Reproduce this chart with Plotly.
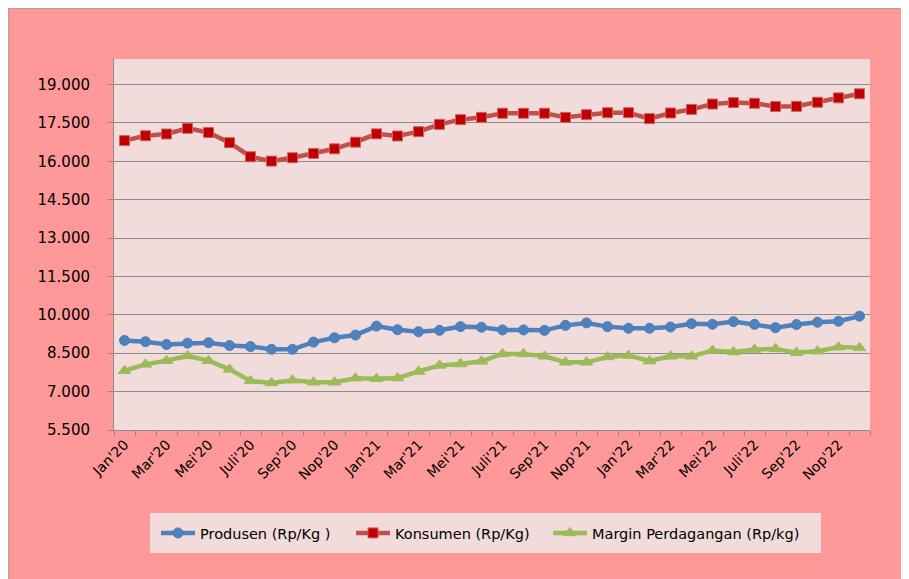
import plotly.graph_objects as go

months = ["Jan'20", "Feb'20", "Mar'20", "Apr'20", "Mei'20", "Jun'20", "Juli'20", "Agst'20", "Sep'20", "Okt'20", "Nop'20", "Des'20",
          "Jan'21", "Feb'21", "Mar'21", "Apr'21", "Mei'21", "Jun'21", "Juli'21", "Agst'21", "Sep'21", "Okt'21", "Nop'21", "Des'21",
          "Jan'22", "Feb'22", "Mar'22", "Apr'22", "Mei'22", "Jun'22", "Juli'22", "Agst'22", "Sep'22", "Okt'22", "Nop'22", "Des'22"]
tick_labels = [m if i % 2 == 0 else "" for i, m in enumerate(months)]

produsen = [9000, 8950, 8840, 8895, 8910, 8800, 8760, 8655, 8655, 8935, 9105, 9210,
            9560, 9420, 9340, 9395, 9540, 9515, 9410, 9410, 9395, 9590, 9685, 9540,
            9475, 9475, 9525, 9655, 9630, 9735, 9630, 9500, 9620, 9710, 9750, 9950]
konsumen = [16810, 17000, 17070, 17290, 17130, 16730, 16180, 16010, 16140, 16310, 16490, 16750,
            17075, 16990, 17160, 17445, 17630, 17720, 17880, 17880, 17880, 17720, 17825, 17900,
            17900, 17670, 17890, 18030, 18240, 18295, 18270, 18140, 18150, 18310, 18480, 18640]
margin = [7815, 8065, 8210, 8395, 8210, 7870, 7420, 7340, 7445, 7365, 7365, 7525,
          7500, 7530, 7790, 8025, 8080, 8185, 8475, 8475, 8380, 8145, 8145, 8355,
          8410, 8195, 8380, 8380, 8605, 8550, 8645, 8670, 8525, 8580, 8740, 8710]

# page offset (body margin of the html page)
OFF = 8
W, H = 909, 579
# plot area in page pixels
L, R, T, B = 114, 870, 59, 430

def px_x(p):
    return (p - L) / (R - L)

def px_y(p):
    return (B - p) / (B - T)

FONT = "DejaVu Sans"
GRID = "#8C8C8C"

fig = go.Figure()
fig.add_trace(go.Scatter(
    x=months, y=produsen, name="Produsen (Rp/Kg )", mode="lines+markers",
    line=dict(color="#4F81BD", width=4.5),
    marker=dict(symbol="circle", size=10, color="#4F81BD", line=dict(color="#4A7EBB", width=1)),
    legend="legend",
))
fig.add_trace(go.Scatter(
    x=months, y=konsumen, name="Konsumen (Rp/Kg)", mode="lines+markers",
    line=dict(color="#C0504D", width=4.5),
    marker=dict(symbol="square", size=10, color="#C00000", line=dict(color="#D06060", width=1)),
    legend="legend2",
))
fig.add_trace(go.Scatter(
    x=months, y=margin, name="Margin Perdagangan (Rp/kg)", mode="lines+markers",
    line=dict(color="#9BBB59", width=4.5),
    marker=dict(symbol="triangle-up", size=11, color="#9BBB59", line=dict(color="#9BBB59", width=1)),
    legend="legend3",
))

shapes = [
    # legend background box
    dict(type="rect", xref="paper", yref="paper", x0=px_x(150), x1=px_x(821), y0=px_y(553), y1=px_y(513),
         fillcolor="#F2DCDB", line=dict(width=0), layer="below"),
    # thin grey border of the chart area (top and left)
    dict(type="line", xref="paper", yref="paper", x0=px_x(OFF), x1=px_x(OFF + W), y0=px_y(OFF + 0.5), y1=px_y(OFF + 0.5),
         line=dict(color="#A6A6A6", width=1.2)),
    dict(type="line", xref="paper", yref="paper", x0=px_x(OFF + 0.5), x1=px_x(OFF + 0.5), y0=px_y(OFF), y1=px_y(OFF + H),
         line=dict(color="#A6A6A6", width=1.2)),
]

leg_common = dict(orientation="h", xanchor="left", yanchor="middle", y=px_y(533),
                  bgcolor="rgba(0,0,0,0)", font=dict(family=FONT, size=14.5, color="#000000"),
                  itemwidth=34)

fig.update_layout(
    width=W, height=H,
    margin=dict(l=L - OFF, r=W - (R - OFF), t=T - OFF, b=H - (B - OFF)),
    paper_bgcolor="#FF9999",
    plot_bgcolor="#F2DCDB",
    separators=",.",
    font=dict(family=FONT, size=14, color="#000000"),
    showlegend=True,
    legend=dict(x=px_x(156), **leg_common),
    legend2=dict(x=px_x(351), **leg_common),
    legend3=dict(x=px_x(548), **leg_common),
    shapes=shapes,
)

fig.update_xaxes(
    type="category", categoryorder="array", categoryarray=months,
    range=[-0.5, len(months) - 0.5],
    tickmode="array", tickvals=months, ticktext=tick_labels,
    tickson="boundaries", ticks="outside", ticklen=5, tickcolor=GRID, tickwidth=1,
    tickangle=-45, tickfont=dict(family=FONT, size=14),
    showline=True, linecolor=GRID, linewidth=1, showgrid=False, zeroline=False,
)
fig.update_yaxes(
    range=[5500, 20000], tickmode="linear", tick0=5500, dtick=1500,
    tickformat=",d", ticks="outside", ticklen=6, tickcolor=GRID, tickwidth=1,
    ticklabelstandoff=14, tickfont=dict(family=FONT, size=15),
    showline=True, linecolor=GRID, linewidth=1,
    showgrid=True, gridcolor=GRID, gridwidth=1, zeroline=False,
)

fig.write_html("out.html")
